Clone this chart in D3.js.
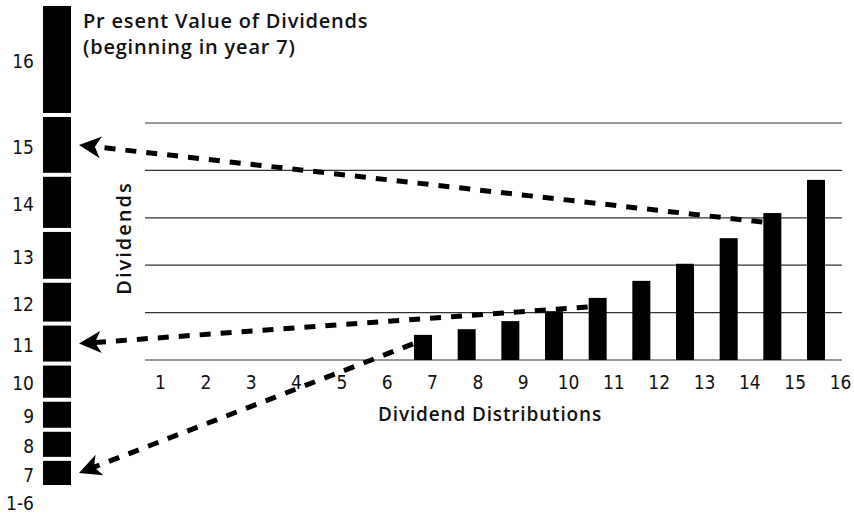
<!DOCTYPE html>
<html>
<head>
<meta charset="utf-8">
<script src="https://cdn.jsdelivr.net/npm/d3@7"></script>
<style>
  body { margin: 0; background: #fff; }
  svg { display: block; }
  .tick-label { font-family: "Liberation Sans Narrow", "DejaVu Sans Condensed", sans-serif; font-size: 19px; fill: #111; }
  .bold-label { font-family: "Open Sans", "Lato", sans-serif; font-weight: 600; fill: #111; }
</style>
</head>
<body>
<div id="chart"></div>
<script>
// distributions 1..16, nothing paid in years 1-6
const years = [1, 2, 3, 4, 5, 6, 7, 8, 9, 10, 11, 12, 13, 14, 15, 16];
const dividends = [0, 0, 0, 0, 0, 0, 0.53, 0.65, 0.82, 1.03, 1.31, 1.67, 2.03, 2.57, 3.10, 3.80];
const gridValues = [0, 1, 2, 3, 4, 5];

// present value stack on the left, bottom (year 7) to top (year 16)
const pvYears = ["7", "8", "9", "10", "11", "12", "13", "14", "15", "16"];
const pvValues = [0.51, 0.53, 0.55, 0.68, 0.76, 0.82, 0.99, 1.08, 1.18, 2.26];
const pvNoneLabel = "1-6";

// which bars point back to which slice
const arrowYears = ["15", "11", "7"];

const width = 854, height = 517;

let svg = d3.select("#chart").append("svg")
  .attr("width", width)
  .attr("height", height);

/* scales */
let xBar = d3.scaleLinear().domain([1, 16]).range([161, 816]);
let xTick = d3.scalePoint().domain(years).range([160, 840]);
let y = d3.scaleLinear().domain([0, 5]).range([360, 123]);

let barWidth = 18;

/* grid lines */
svg.append("g")
  .attr("class", "grid")
  .selectAll("line")
  .data(gridValues).enter()
  .append("line")
  .attr("x1", 145)
  .attr("x2", 842)
  .attr("y1", d => y(d))
  .attr("y2", d => y(d))
  .attr("stroke", "#333")
  .attr("stroke-width", 1.2);

/* bars */
svg.append("g")
  .attr("class", "bars")
  .selectAll("rect")
  .data(years.map((yr, i) => ({ year: yr, value: dividends[i] })).filter(d => d.value > 0))
  .enter()
  .append("rect")
  .attr("x", d => xBar(d.year) - barWidth / 2)
  .attr("y", d => y(d.value))
  .attr("width", barWidth)
  .attr("height", d => y(0) - y(d.value))
  .attr("fill", "#000");

/* x axis labels */
let xAxis = d3.axisBottom(xTick).tickSize(0).tickPadding(0);
let xg = svg.append("g")
  .attr("transform", "translate(0, 375)")
  .call(xAxis);
xg.select(".domain").remove();
xg.attr("font-size", null).attr("font-family", null);
xg.selectAll("text")
  .attr("class", "tick-label")
  .attr("dy", "0.71em")
  .attr("fill", null);

svg.append("text")
  .attr("class", "bold-label")
  .attr("x", 490)
  .attr("y", 421)
  .attr("text-anchor", "middle")
  .style("font-size", "19px")
  .style("letter-spacing", "0.85px")
  .text("Dividend Distributions");

svg.append("text")
  .attr("class", "bold-label")
  .attr("transform", "translate(131, 238) rotate(-90)")
  .attr("text-anchor", "middle")
  .style("font-size", "20px")
  .style("letter-spacing", "2px")
  .text("Dividends");

/* title */
let title = svg.append("text")
  .attr("class", "bold-label")
  .attr("x", 83)
  .style("font-size", "20px")
  .style("letter-spacing", "0.8px");
title.append("tspan").attr("x", 83).attr("y", 28).text("Pr esent Value of Dividends");
title.append("tspan").attr("x", 83).attr("y", 54).text("(beginning in year 7)");

/* present value stack */
let stackBottom = 485, stackTop = 6, gap = 4;
let total = d3.sum(pvValues);
let h = d3.scaleLinear().domain([0, total])
  .range([0, stackBottom - stackTop - gap * (pvValues.length - 1)]);

let cum = 0;
let segments = pvValues.map((v, i) => {
  let y1 = stackBottom - h(cum) - i * gap;
  let y0 = y1 - h(v);
  cum += v;
  return { year: pvYears[i], y0: y0, y1: y1, mid: (y0 + y1) / 2 };
});

svg.append("g")
  .attr("class", "stack")
  .selectAll("rect")
  .data(segments).enter()
  .append("rect")
  .attr("x", 43)
  .attr("width", 28)
  .attr("y", d => d.y0)
  .attr("height", d => d.y1 - d.y0)
  .attr("fill", "#000");

svg.append("g")
  .selectAll("text")
  .data(segments).enter()
  .append("text")
  .attr("class", "tick-label")
  .attr("x", 34)
  .attr("y", d => d.mid + 2)
  .attr("dy", "0.35em")
  .attr("text-anchor", "end")
  .text(d => d.year);

svg.append("text")
  .attr("class", "tick-label")
  .attr("x", 34)
  .attr("y", stackBottom + 18)
  .attr("dy", "0.35em")
  .attr("text-anchor", "end")
  .text(pvNoneLabel);

/* dashed arrows from bars back to their slices */
let headLen = 22, headHalf = 11, notch = 6;
let arrows = svg.append("g").attr("class", "arrows");

arrowYears.forEach(yr => {
  let i = years.indexOf(+yr);
  let seg = segments.find(s => s.year === yr);
  let sx = xBar(+yr) - barWidth / 2 - 1;
  let sy = y(dividends[i]) + 9;
  let tx = 71 + 8;
  let ty = seg.mid;
  let ang = Math.atan2(ty - sy, tx - sx);
  let ux = Math.cos(ang), uy = Math.sin(ang);
  let px = -uy, py = ux;

  arrows.append("line")
    .attr("x1", sx).attr("y1", sy)
    .attr("x2", tx - ux * (headLen - notch - 2))
    .attr("y2", ty - uy * (headLen - notch - 2))
    .attr("stroke", "#000")
    .attr("stroke-width", 5)
    .attr("stroke-dasharray", "11,10");

  let bx = tx - ux * headLen, by = ty - uy * headLen;
  let nx = tx - ux * (headLen - notch), ny = ty - uy * (headLen - notch);
  let head = d3.path();
  head.moveTo(tx, ty);
  head.lineTo(bx + px * headHalf, by + py * headHalf);
  head.lineTo(nx, ny);
  head.lineTo(bx - px * headHalf, by - py * headHalf);
  head.closePath();
  arrows.append("path").attr("d", head.toString()).attr("fill", "#000");
});
</script>
</body>
</html>
